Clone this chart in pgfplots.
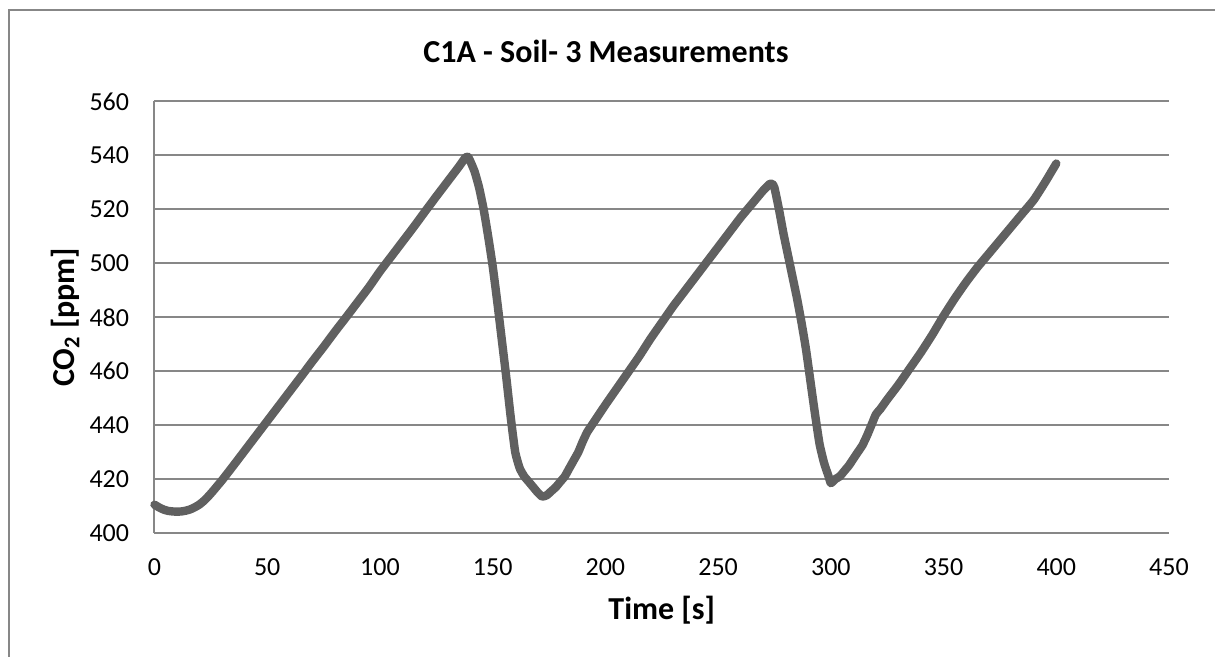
\documentclass[border=0pt]{standalone}
\usepackage{pgfplots}
\pgfplotsset{compat=1.18}
\usepackage{fontspec}
\setmainfont{Carlito}
\definecolor{gridgray}{HTML}{878787}
\definecolor{linegray}{HTML}{606060}
\begin{document}
\begin{tikzpicture}
\clip (-77.25pt,-62pt) rectangle (530.25pt,266.5pt);
\draw[gridgray, line width=1pt] (-72.75pt,-80pt) -- (-72.75pt,261.5pt) -- (560pt,261.5pt);
\begin{axis}[
  at={(0,0)}, anchor=south west,
  scale only axis,
  width=507.25pt, height=215.75pt,
  xmin=0, xmax=450, ymin=400, ymax=560,
  xtick={0,50,...,450}, ytick={400,420,...,560},
  axis x line*=bottom, axis y line*=left,
  axis line style={gridgray, line width=1pt, -},
  major tick length=0pt,
  ymajorgrids, grid style={gridgray, line width=1pt},
  /pgf/number format/assume math mode=true,
  /pgf/number format/1000 sep={},
  tick label style={font=\fontsize{13}{15}\selectfont, text=black},
  yticklabel style={anchor=east, inner sep=0pt, xshift=-12.5pt},
  xticklabel style={anchor=north, inner sep=0pt, yshift=-12.5pt},
  title={C1A - Soil- 3 Measurements},
  title style={at={(axis description cs:0.5,1)}, anchor=center, xshift=-27.9pt, yshift=19pt, font=\fontsize{16}{19}\selectfont\bfseries},
  xlabel={Time [s]},
  xlabel style={at={(axis description cs:0.5,0)}, anchor=center, yshift=-38.5pt, font=\fontsize{16}{19}\selectfont\bfseries},
  ylabel={CO\textsubscript{2} [ppm]},
  ylabel style={at={(axis description cs:0,0.5)}, anchor=center, yshift=44.75pt, font=\fontsize{16}{19}\selectfont\bfseries},
  clip=false,
]
\addplot[linegray, line width=4.2pt, line cap=round, line join=round, smooth, tension=0.3] coordinates {
(0,410.5)(2,409.5)(4,408.7)(6,408.2)(8,408)(10,407.9)(12,408)(14,408.3)(16,408.8)(18,409.6)
(20,410.6)(22,412)(24,413.7)(26,415.6)(28,417.6)(30,419.6)(35,425)(40,430.5)(45,436)(50,441.5)
(55,447)(60,452.5)(65,458)(70,463.6)(75,469)(80,474.6)(85,480)(90,485.5)(95,491)(100,497)
(105,502.5)(110,508)(115,513.5)(120,519.2)(125,524.8)(130,530.3)(135,535.8)(138,539.3)(139,539.5)
(140,538)(142,534)(144,528)(146,520)(148,510)(150,499)(152,486)(154,472)(156,458)(158,443)
(160,430)(162,424)(164,421)(166,419)(168,417)(170,415)(172,413.5)(174,414)(176,415.5)(178,417)
(180,419)(182,421)(184,424)(186,427)(188,430)(190,434)(192,437.5)(194,440)(196,442.5)(200,447.5)
(205,453.5)(210,459.5)(215,465.5)(220,472)(225,478)(230,484)(235,489.5)(240,495)(245,500.5)
(250,506)(255,511.5)(260,517)(265,522)(270,527)(273,529.5)(274,529.5)(275,528)(277,520)(279,511)
(281,503)(283,495)(285,487)(287,478)(289,468)(291,456)(293,444)(295,433)(297,426)(299,421)
(300,418.5)(302,420)(304,421)(306,423)(308,425)(310,427.5)(312,430)(314,432.5)(316,436)(318,440)
(320,444)(322,446)(325,449.5)(330,455)(335,461)(340,467)(345,473.5)(350,480.5)(355,487)(360,493)
(365,498.5)(370,503.5)(375,508.5)(380,513.5)(385,518.5)(390,523.5)(395,530)(400,537)
};
\end{axis}
\end{tikzpicture}
\end{document}
